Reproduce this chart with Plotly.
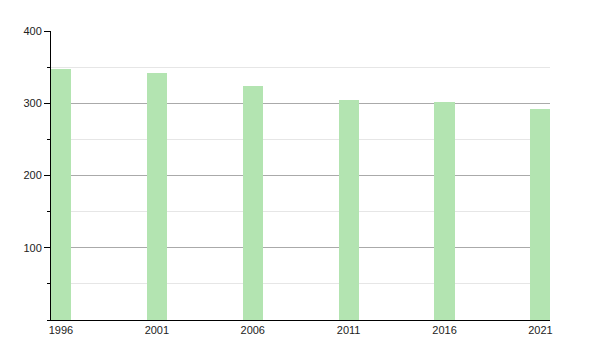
import plotly.graph_objects as go

years = ["1996", "2001", "2006", "2011", "2016", "2021"]
population = [347, 342, 324, 304, 302, 292]
y_ticks = [100, 200, 300, 400]

x_pos = list(range(len(years)))

fig = go.Figure()
fig.add_trace(go.Bar(
    x=x_pos, y=population, width=0.21,
    marker=dict(color="rgb(179,228,177)", line=dict(width=0)),
    hoverinfo="skip",
))

fig.update_layout(
    width=600, height=350,
    margin=dict(l=51, r=50, t=31, b=30),
    plot_bgcolor="white", paper_bgcolor="white",
    showlegend=False,
    font=dict(family="Liberation Sans, Arial, sans-serif", size=11, color="#222"),
    bargap=0,
)
fig.update_xaxes(
    range=[-0.104, 5.1],
    tickvals=x_pos, ticktext=years,
    showgrid=False, zeroline=False,
    showline=True, linecolor="black", linewidth=1,
    ticks="", ticklen=0,
)
fig.update_yaxes(
    range=[0, 400],
    tickvals=y_ticks,
    showgrid=True, gridcolor="#aaaaaa", gridwidth=1,
    zeroline=False,
    showline=True, linecolor="black", linewidth=1,
    ticks="outside", ticklen=6, tickcolor="black",
    minor=dict(dtick=50, showgrid=True, gridcolor="#e6e6e6",
               ticks="outside", ticklen=3, tickcolor="black"),
)

fig.write_html("out.html")
